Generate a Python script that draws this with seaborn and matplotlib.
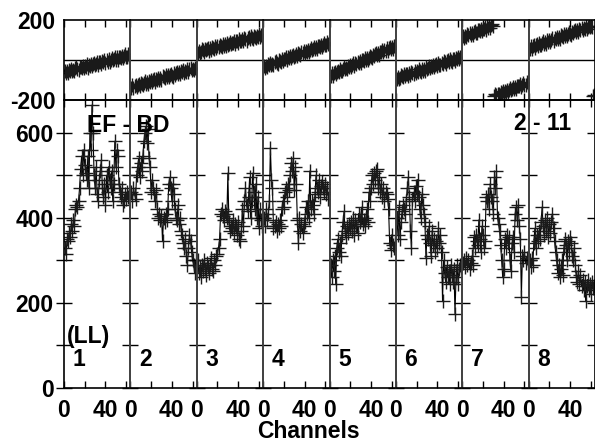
import numpy as np
import pandas as pd
import matplotlib
matplotlib.use("Agg")
import matplotlib.pyplot as plt
import seaborn as sns

# ---------------- data ----------------
channels = list(range(1, 64))

amp_p1 = [330, 315, 350, 345, 365, 355, 385, 370, 395, 380, 420, 430, 425, 440, 470, 515, 545, 500, 560, 525,
          505, 490, 545, 470, 600, 560, 665, 600, 500, 470, 520, 455, 440, 490, 510, 535, 470, 450, 480, 430,
          500, 460, 520, 490, 470, 510, 440, 480, 580, 520, 560, 545, 480, 460, 450, 470, 430, 440, 455, 445,
          460, 450, 455]
amp_p2 = [460, 440, 470, 455, 445, 500, 520, 540, 495, 530, 510, 545, 580, 600, 615, 575, 610, 540, 520, 460,
          490, 470, 455, 440, 465, 420, 400, 410, 395, 405, 345, 400, 390, 410, 395, 420, 480, 495, 470, 440,
          480, 455, 420, 400, 395, 430, 385, 400, 370, 360, 340, 330, 350, 310, 290, 330, 360, 345, 320, 300,
          290, 270, 300]
amp_p3 = [300, 270, 285, 260, 290, 275, 300, 280, 265, 295, 285, 270, 290, 305, 280, 275, 300, 290, 310, 315,
          330, 350, 410, 420, 405, 395, 415, 410, 400, 505, 390, 370, 380, 375, 395, 365, 385, 380, 360, 390,
          350, 345, 370, 420, 380, 440, 470, 430, 415, 450, 495, 400, 440, 505, 460, 420, 480, 400, 450, 375,
          420, 395, 380]
amp_p4 = [400, 380, 420, 395, 410, 440, 565, 490, 470, 375, 380, 390, 370, 385, 375, 395, 380, 420, 440, 425,
          460, 470, 450, 480, 465, 500, 530, 510, 540, 465, 520, 480, 395, 340, 400, 370, 385, 365, 380, 390,
          425, 410, 440, 400, 510, 420, 440, 430, 410, 455, 500, 470, 460, 490, 450, 475, 485, 470, 460, 480,
          455, 470, 445]
amp_p5 = [290, 260, 300, 275, 310, 245, 330, 350, 320, 340, 310, 360, 390, 415, 370, 355, 380, 365, 385, 375,
          390, 370, 400, 360, 395, 380, 365, 410, 390, 400, 425, 385, 395, 380, 400, 420, 390, 460, 440, 470,
          500, 480, 505, 490, 510, 515, 470, 495, 460, 480, 450, 470, 440, 460, 455, 445, 420, 340, 325, 360,
          335, 330, 340]
amp_p6 = [400, 360, 425, 350, 390, 415, 430, 420, 410, 440, 470, 495, 450, 370, 330, 445, 460, 440, 475, 455,
          490, 450, 420, 400, 455, 430, 410, 390, 305, 360, 350, 380, 340, 310, 370, 335, 350, 320, 345, 330,
          375, 340, 360, 320, 205, 300, 270, 250, 285, 260, 275, 245, 290, 265, 250, 280, 175, 260, 290, 245,
          280, 290, 285]
amp_p7 = [295, 300, 285, 305, 290, 300, 280, 295, 310, 290, 355, 330, 360, 345, 335, 395, 350, 320, 380, 360,
          330, 345, 450, 440, 455, 420, 480, 450, 440, 410, 495, 470, 510, 400, 385, 370, 335, 300, 260, 280,
          350, 330, 360, 340, 355, 300, 275, 340, 355, 320, 410, 425, 395, 430, 380, 350, 215, 310, 300, 320,
          295, 305, 300]
amp_p8 = [300, 285, 305, 290, 340, 375, 330, 360, 345, 370, 350, 390, 425, 380, 360, 395, 370, 400, 355, 385,
          365, 390, 410, 375, 345, 320, 300, 270, 290, 260, 280, 300, 265, 330, 350, 335, 300, 345, 320, 355,
          340, 310, 300, 330, 290, 260, 250, 275, 245, 265, 240, 255, 230, 250, 205, 240, 255, 230, 245, 220,
          250, 235, 240]

phase_p1 = [-55, -65, -54, -64, -48, -55, -43, -55, -48, -55, -42, -37, -47, -51, -35, -37, -42, -30, -41, -31,
            -34, -22, -38, -23, -30, -20, -31, -21, -14, -25, -21, -11, -25, -11, -12, -18, -6, -12, 1, -14,
            -2, -8, 4, -9, 2, 10, -2, 3, 13, 1, 13, 1, 16, 16, 12, 21, 10, 19, 28, 17, 16, 29, 22]
phase_p2 = [-139, -126, -140, -128, -123, -136, -123, -119, -129, -113, -122, -125, -113, -106, -119, -111, -119,
            -103, -110, -99, -110, -101, -93, -109, -94, -98, -89, -99, -89, -99, -82, -86, -92, -75, -87, -76,
            -87, -77, -69, -78, -83, -66, -73, -65, -61, -71, -62, -71, -56, -61, -49, -63, -53, -58, -44, -58,
            -46, -42, -51, -44, -51, -38, -42]
phase_p3 = [37, 46, 37, 40, 53, 48, 41, 56, 49, 55, 59, 46, 60, 52, 66, 60, 54, 69, 62, 71, 63, 77, 68, 65, 78,
            69, 79, 68, 85, 77, 82, 91, 78, 87, 83, 94, 81, 94, 97, 86, 104, 94, 93, 103, 94, 109, 104, 96, 109,
            113, 105, 118, 110, 106, 119, 117, 108, 122, 117, 128, 117, 126, 119]
phase_p4 = [-30, -39, -28, -37, -20, -27, -14, -26, -19, -25, -12, -6, -15, -19, -2, -4, -8, 5, -6, 5, 3, 14, -1,
            14, 8, 19, 8, 19, 27, 16, 21, 32, 18, 33, 32, 26, 39, 33, 47, 33, 45, 40, 52, 40, 52, 60, 49, 55, 65,
            54, 65, 54, 70, 70, 67, 77, 66, 76, 85, 75, 75, 88, 82]
phase_p5 = [-79, -66, -78, -66, -60, -72, -58, -54, -62, -46, -54, -56, -43, -36, -47, -39, -46, -29, -36, -24,
            -34, -24, -16, -30, -15, -18, -8, -17, -7, -15, 2, -1, -6, 11, 0, 12, 2, 12, 22, 13, 9, 27, 21, 29,
            35, 25, 35, 27, 42, 38, 51, 38, 48, 45, 59, 46, 59, 64, 55, 64, 57, 71, 68]
phase_p6 = [-93, -83, -93, -89, -75, -81, -87, -72, -78, -72, -68, -80, -66, -74, -59, -66, -71, -55, -63, -53,
            -60, -47, -55, -58, -44, -53, -43, -53, -36, -44, -38, -29, -42, -32, -37, -25, -37, -25, -21, -31,
            -13, -23, -24, -13, -22, -7, -11, -19, -6, -1, -10, 4, -3, -8, 6, 5, -4, 10, 5, 17, 6, 15, 9]
phase_p7 = [120, 111, 122, 113, 130, 123, 136, 124, 133, 127, 140, 146, 137, 133, 150, 148, 144, 157, 146, 157,
            155, 167, 152, 168, 162, 173, 162, 173, 178, 170, -179, -169, -177, -168, -169, -174, -161, -167,
            -153, -167, -155, -160, -148, -160, -148, -140, -151, -145, -135, -146, -134, -145, -129, -129,
            -132, -122, -133, -123, -114, -124, -124, -111, -117]
phase_p8 = [56, 69, 56, 68, 73, 60, 74, 78, 69, 85, 77, 73, 86, 93, 81, 89, 82, 98, 90, 102, 91, 101, 109, 94,
            109, 105, 114, 105, 115, 106, 123, 119, 113, 130, 119, 130, 120, 130, 138, 129, 125, 142, 136, 144,
            149, 138, 148, 139, 154, 150, 162, 149, 158, 154, 168, 155, 167, 172, 163, 170, 163, -178, -174]

amplitudes = [amp_p1, amp_p2, amp_p3, amp_p4, amp_p5, amp_p6, amp_p7, amp_p8]
phases = [phase_p1, phase_p2, phase_p3, phase_p4, phase_p5, phase_p6, phase_p7, phase_p8]
panel_labels = ["1", "2", "3", "4", "5", "6", "7", "8"]
baseline_text = "EF - BD"
time_text = "2 - 11"
pol_text = "(LL)"
xlabel_text = "Channels"
x_ticks = [0, 20, 40, 60]
x_ticklabels = ["0", "", "40", ""]
amp_ticks = [0, 200, 400, 600]
amp_minor = [100, 300, 500]
phase_ticks = [-200, 200]

# ---------------- style ----------------
sns.set_theme(style="white")
plt.rcParams["font.family"] = ["Liberation Sans", "DejaVu Sans"]
plt.rcParams["font.weight"] = "bold"
for key in ["text.color", "axes.labelcolor", "xtick.color", "ytick.color", "axes.edgecolor"]:
    plt.rcParams[key] = "black"
FS = 16.5

W_PX, H_PX = 595, 442
fig = plt.figure(figsize=(W_PX / 100, H_PX / 100), dpi=100)

left_px, right_px = 64, 595
npan = 8
pw = (right_px - left_px) / npan
top_ph, bot_ph = 20, 100
bot_amp = 388

line_kw = dict(color="black", lw=0.8, marker="+", markersize=10,
               markeredgewidth=1.0, markeredgecolor="#1a1a1a",
               estimator=None, sort=False, legend=False)


def frac_x(px):
    return px / W_PX


def frac_y(py):
    return 1 - py / H_PX


for i in range(npan):
    x0 = frac_x(left_px + i * pw)
    w = pw / W_PX
    axp = fig.add_axes([x0, frac_y(bot_ph), w, (bot_ph - top_ph) / H_PX])
    axa = fig.add_axes([x0, frac_y(bot_amp), w, (bot_amp - bot_ph) / H_PX])

    # ---- phase ----
    ph = np.array(phases[i], dtype=float)
    ch = np.array(channels)
    breaks = np.where(np.abs(np.diff(ph)) > 180)[0] + 1
    for seg_ch, seg_ph in zip(np.split(ch, breaks), np.split(ph, breaks)):
        sns.lineplot(x=seg_ch, y=seg_ph, ax=axp, **line_kw)
    axp.axhline(0, color="black", lw=1.0, zorder=0)
    axp.set_xlim(0, 64)
    axp.set_ylim(-200, 200)
    axp.set_xticks(x_ticks)
    axp.set_xticklabels([])
    axp.tick_params(axis="x", direction="in", length=5, width=1, top=True, bottom=True, colors="black")
    axp.set_yticks(phase_ticks)
    axp.tick_params(axis="y", length=0, pad=6, labelsize=FS, labelcolor="black")
    if i != 0:
        axp.set_yticklabels([])
    else:
        axp.set_yticklabels([str(t) for t in phase_ticks], fontweight="bold", fontsize=FS)

    # ---- amplitude ----
    sns.lineplot(x=channels, y=amplitudes[i], ax=axa, **line_kw)
    axa.set_xlim(0, 64)
    axa.set_ylim(0, 677)
    axa.set_xticks(x_ticks)
    axa.set_xticklabels(x_ticklabels, fontweight="bold", fontsize=FS)
    axa.tick_params(axis="x", direction="in", length=5, width=1, top=True, bottom=True, pad=8,
                    colors="black", labelsize=FS)
    axa.set_yticks(amp_ticks)
    axa.set_yticks(amp_minor, minor=True)
    axa.tick_params(axis="y", which="both", direction="inout", length=11, width=1,
                    left=True, right=(i == npan - 1), pad=2, labelsize=FS, colors="black")
    if i != 0:
        axa.set_yticklabels([])
    else:
        axa.set_yticklabels([str(t) for t in amp_ticks], fontweight="bold", fontsize=FS)

    axa.text(0.13, 66, panel_labels[i], transform=axa.get_yaxis_transform(),
             fontsize=FS, fontweight="bold", va="center", ha="left", color="black")

    for ax in (axp, axa):
        ax.set_xlabel("")
        ax.set_ylabel("")
        for sp in ax.spines.values():
            sp.set_color("black")
            sp.set_linewidth(1.2)
        ax.set_facecolor("none")
        ax.patch.set_alpha(0)
    if i > 0:
        axp.spines["left"].set_color("#4a4a4a")
        axa.spines["left"].set_color("#4a4a4a")

    if i == 0:
        axa.text(0.045, 120, pol_text, transform=axa.get_yaxis_transform(),
                 fontsize=FS, fontweight="bold", va="center", ha="left", color="black")

fig.text(frac_x(87), frac_y(125), baseline_text, fontsize=FS, fontweight="bold",
         ha="left", va="center", zorder=10, color="black")
fig.text(frac_x(514), frac_y(124), time_text, fontsize=FS, fontweight="bold",
         ha="left", va="center", zorder=10, color="black")
fig.text(frac_x(308), frac_y(432), xlabel_text, fontsize=FS, fontweight="bold",
         ha="center", va="center", color="black")

fig.savefig("out.png", dpi=100)
